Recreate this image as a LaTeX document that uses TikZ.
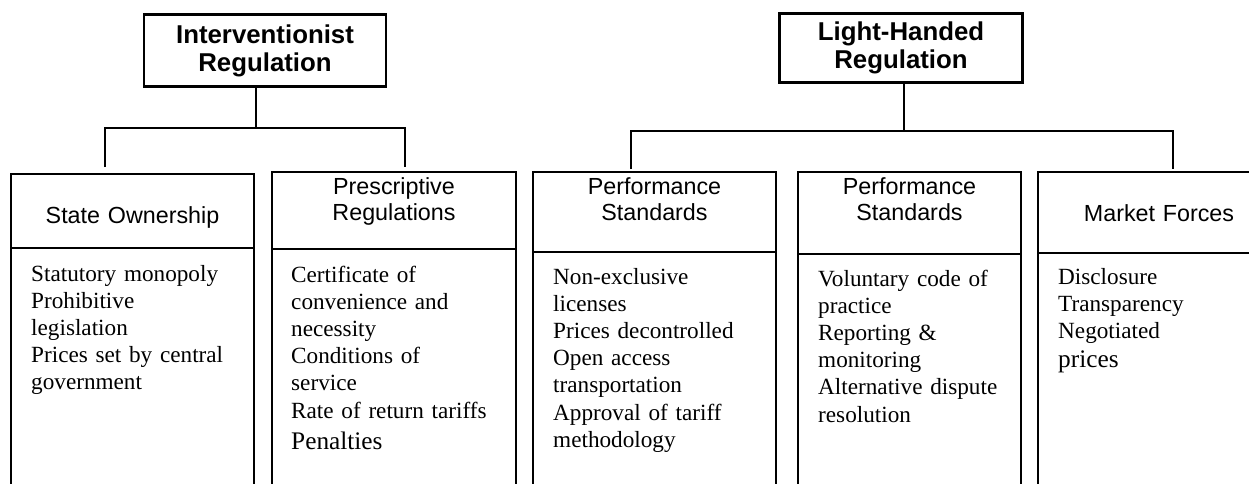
\documentclass[tikz,border=0pt]{standalone}
\usepackage{fontspec}
\setmainfont{Liberation Serif}
\setsansfont{Liberation Sans}
\usetikzlibrary{positioning}

\begin{document}
\begin{tikzpicture}[x=1pt,y=-1pt,
  box/.style={draw,line width=2.5pt,inner sep=0pt,outer sep=0pt},
  side/.style={line width=2pt},
  link/.style={line width=1.6pt},
  toptxt/.style={font=\sffamily\bfseries\fontsize{25.8}{28}\selectfont,align=center},
  headtxt/.style={font=\sffamily\fontsize{23.3}{26.5}\selectfont,text width=230pt,align=center,inner sep=0pt,anchor=base},
  items/.style={font=\fontsize{23.2}{27.2}\selectfont,text width=215pt,align=left,inner sep=0pt,anchor=base west}]
\useasboundingbox (0,0) rectangle (1249,483);
\clip (0,0) rectangle (1249,483);
\coordinate (floor) at (0,500);

% the two kinds of regulation
\node[box,toptxt,minimum width=242pt,minimum height=72pt] (iv) at (265,50.5) {Interventionist\\Regulation};
\node[box,toptxt,minimum width=243pt,minimum height=69pt] (lh) at (901,48) {Light-Handed\\Regulation};

% column heads, bodies run off the bottom
\node[box,minimum width=243pt,minimum height=74pt] (so) at (132.5,211) {};
\node[box,minimum width=244pt,minimum height=77pt] (pr) at (394,210.5) {};
\node[box,minimum width=243pt,minimum height=80pt] (pf1) at (654.5,212) {};
\node[box,minimum width=223pt,minimum height=82pt] (pf2) at (909.5,213) {};
\node[box,minimum width=242pt,minimum height=81pt] (mf) at (1159,212.5) {};
\foreach \c in {so,pr,pf1,pf2,mf}
  \draw[side] (\c.south west) rectangle (\c.east |- floor);

\node[headtxt] (so-t) at ([shift={(0,49.5)}]so.north) {State Ownership};
\node[headtxt] (pr-t) at ([shift={(0,22)}]pr.north) {Prescriptive\\Regulations};
\node[headtxt] (pf1-t) at ([shift={(0,22)}]pf1.north) {Performance\\Standards};
\node[headtxt] (pf2-t) at ([shift={(0,22)}]pf2.north) {Performance\\Standards};
\node[headtxt] (mf-t) at ([shift={(0,49)}]mf.north) {Market Forces};

% what each one involves
\node[items] (so-b) at ([shift={(20,33)}]so.south west) {Statutory monopoly\\Prohibitive\\legislation\\Prices set by central\\government};
\node[items] (pr-b) at ([shift={(19,33)}]pr.south west) {Certificate of\\convenience and\\necessity\\Conditions of\\service\\Rate of return tariffs\\[4pt]{\fontsize{25.3}{29}\selectfont Penalties}};
\node[items] (pf1-b) at ([shift={(20,32)}]pf1.south west) {Non-exclusive\\licenses\\Prices decontrolled\\Open access\\transportation\\Approval of tariff\\methodology};
\node[items] (pf2-b) at ([shift={(20,32)}]pf2.south west) {Voluntary code of\\practice\\Reporting \&\\monitoring\\Alternative dispute\\resolution};
\node[items] (mf-b) at ([shift={(20,31)}]mf.south west) {Disclosure\\Transparency\\Negotiated\\[2pt]{\fontsize{25.3}{29}\selectfont prices}};

% tree lines
\coordinate (iv-j) at (256,128);
\coordinate (so-d) at (105,167);
\coordinate (pr-d) at (405,167);
\draw[link] (iv.south -| iv-j) -- (iv-j);
\draw[link] (so-d) |- (iv-j) -| (pr-d);
\coordinate (lh-j) at (904,131);
\coordinate (pf1-d) at (631,169);
\coordinate (mf-d) at (1173,169);
\draw[link] (lh.south -| lh-j) -- (lh-j);
\draw[link] (pf1-d) |- (lh-j) -| (mf-d);
\end{tikzpicture}
\end{document}
